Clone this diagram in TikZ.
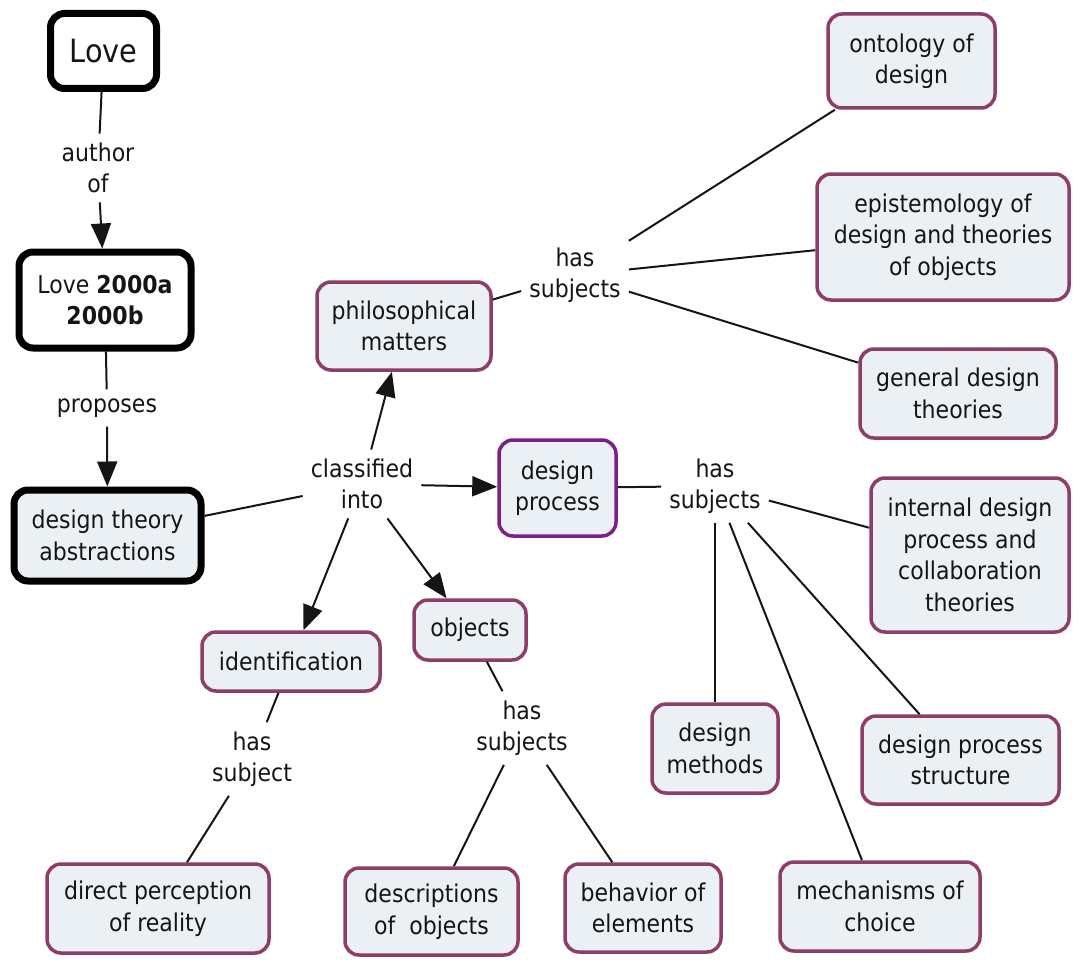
\documentclass[tikz,border=0pt]{standalone}
\usepackage{fontspec}
\setmainfont{DejaVu Sans Condensed}
\usetikzlibrary{arrows.meta}

\definecolor{cfill}{HTML}{EBF0F4}
\definecolor{cedge}{HTML}{8E3C68}
\definecolor{cpurple}{HTML}{7E1F86}
\definecolor{ink}{HTML}{151515}

\newcommand\cmfont{\fontsize{24.5}{31.5}\selectfont}

\begin{document}
\begin{tikzpicture}[x=1pt,y=-1pt,
  concept/.style={draw=cedge, fill=cfill, line width=3.5pt, rounded corners=14pt,
    align=center, font=\cmfont, text=ink, inner sep=3pt},
  heavy/.style={concept, draw=black, line width=7pt},
  lbl/.style={align=center, font=\cmfont, text=ink, inner xsep=8pt, inner ysep=9pt},
  link/.style={line width=2pt, draw=ink},
  arr/.style={link, -{Triangle[width=20pt,length=25pt]}},
]
\useasboundingbox (0,0) rectangle (1073,963);

% concepts
\node[heavy, fill=white, minimum width=106pt, minimum height=75pt,
      font=\fontsize{32}{36}\selectfont] (love) at (103.5,51) {Love};
\node[heavy, fill=white, minimum width=172pt, minimum height=96pt] (pubs) at (105,300)
      {Love \textbf{2000a}\\\textbf{2000b}};
\node[heavy, minimum width=187pt, minimum height=91pt] (dta) at (107.5,535.5)
      {design theory\\abstractions};
\node[concept, minimum width=174pt, minimum height=88pt] (phil) at (404,326)
      {philosophical\\matters};
\node[concept, draw=cpurple, minimum width=117pt, minimum height=96pt] (dproc) at (557.5,488)
      {design\\process};
\node[concept, minimum width=167pt, minimum height=94pt] (onto) at (911.5,61)
      {ontology of\\design};
\node[concept, minimum width=252pt, minimum height=126pt] (epist) at (943,237)
      {epistemology of\\design and theories\\of objects};
\node[concept, minimum width=196pt, minimum height=89pt] (gdt) at (958,393.5)
      {general design\\theories};
\node[concept, minimum width=198pt, minimum height=154pt] (idp) at (970,555)
      {internal design\\process and\\collaboration\\theories};
\node[concept, minimum width=178pt, minimum height=59pt] (ident) at (291,661.5)
      {identification};
\node[concept, minimum width=112pt, minimum height=60pt] (obj) at (470,630)
      {objects};
\node[concept, minimum width=126pt, minimum height=89pt] (dmeth) at (715,748.5)
      {design\\methods};
\node[concept, minimum width=197pt, minimum height=88pt] (dps) at (960.5,760)
      {design process\\structure};
\node[concept, minimum width=200pt, minimum height=89pt] (mech) at (880,906.5)
      {mechanisms of\\choice};
\node[concept, minimum width=222pt, minimum height=89pt] (dpr) at (158,908.5)
      {direct perception\\of reality};
\node[concept, minimum width=173pt, minimum height=87pt] (desc) at (431.5,911.5)
      {descriptions\\of\ \ objects};
\node[concept, minimum width=156pt, minimum height=88pt] (beh) at (643,908)
      {behavior of\\elements};

% linking phrases
\node[lbl] (authorof) at (98,168) {author\\of};
\node[lbl] (proposes) at (107,408) {proposes};
\node[lbl] (classed) at (362,484) {classified\\into};
\node[lbl] (hsphil) at (575,275) {has\\subjects};
\node[lbl] (hsproc) at (715,486) {has\\subjects};
\node[lbl] (hsobj) at (522,728) {has\\subjects};
\node[lbl] (hsident) at (252,759) {has\\subject};

% connectors
\draw[link] (love) -- (authorof);
\draw[arr] (authorof) -- (pubs);
\draw[link] (pubs) -- (proposes);
\draw[arr] (proposes) -- (dta);
\draw[link] (dta) -- (classed);
\draw[arr] (classed) -- (phil);
\draw[arr] (classed) -- (dproc);
\draw[arr] (classed) -- (ident);
\draw[arr] (classed) -- (obj);

\draw[link] (phil) -- (hsphil);
\draw[link] (hsphil) -- (onto);
\draw[link] (hsphil) -- (epist);
\draw[link] (hsphil) -- (gdt);

\draw[link] (dproc) -- (hsproc);
\draw[link] (hsproc) -- (idp);
\draw[link] (hsproc) -- (dmeth);
\draw[link] (hsproc) -- (mech);
\draw[link] (hsproc) -- (dps);

\draw[link] (obj) -- (hsobj);
\draw[link] (hsobj) -- (desc);
\draw[link] (hsobj) -- (beh);

\draw[link] (ident) -- (hsident);
\draw[link] (hsident) -- (dpr);
\end{tikzpicture}
\end{document}
